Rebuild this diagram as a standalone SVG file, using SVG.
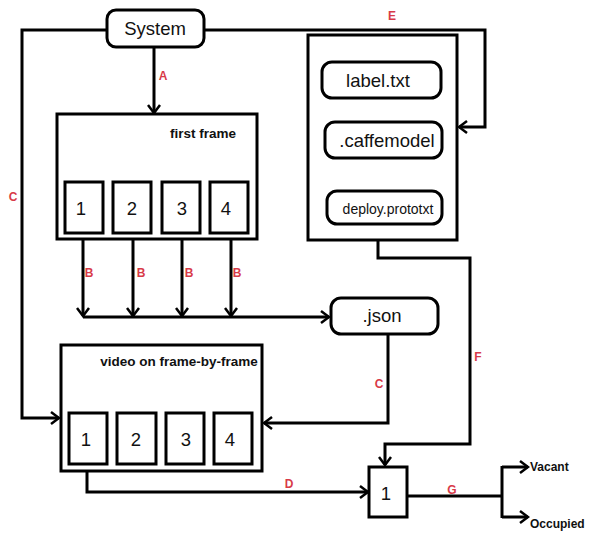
<svg xmlns="http://www.w3.org/2000/svg" width="589" height="534" viewBox="0 0 589 534">
<defs>
<marker id="arr" markerWidth="12" markerHeight="14" refX="10" refY="7" orient="auto" markerUnits="userSpaceOnUse">
<path d="M2,1 L10,7 L2,13" fill="none" stroke="#000" stroke-width="2.5"/>
</marker>
<style>
.box{fill:#fff;stroke:#000;stroke-width:3}
.ln{fill:none;stroke:#000;stroke-width:3}
.t{font-family:"Liberation Sans",Arial,sans-serif;fill:#111;text-anchor:middle}
.big{font-size:18.5px}
.bold{font-weight:bold;font-size:13.5px}
.out{font-family:"Liberation Sans",Arial,sans-serif;fill:#111;font-weight:bold;font-size:12px;text-anchor:start}
.lab{font-family:"Liberation Sans",Arial,sans-serif;font-weight:bold;font-size:12px;fill:#d83a48;text-anchor:middle}
</style>
</defs>
<rect width="589" height="534" fill="#fff"/>
<g id="connectors">
<polyline class="ln" points="154,47 154,113" marker-end="url(#arr)"/>
<polyline class="ln" points="107,30 22,30 22,418 59,418" marker-end="url(#arr)"/>
<polyline class="ln" points="204,30 485,30 485,127 459,127" marker-end="url(#arr)"/>
<polyline class="ln" points="83,233 83,316" marker-end="url(#arr)"/>
<polyline class="ln" points="133,233 133,316" marker-end="url(#arr)"/>
<polyline class="ln" points="182,233 182,316" marker-end="url(#arr)"/>
<polyline class="ln" points="231,233 231,316" marker-end="url(#arr)"/>
<polyline class="ln" points="83,317 329,317" marker-end="url(#arr)"/>
<polyline class="ln" points="388,334 388,423 264,423" marker-end="url(#arr)"/>
<polyline class="ln" points="87,464 87,492 368,492" marker-end="url(#arr)"/>
<polyline class="ln" points="378,240 378,258 470,258 470,444 385,444 385,465" marker-end="url(#arr)"/>
<polyline class="ln" points="407,496 502,496"/>
<polyline class="ln" points="502,467 528,467" marker-end="url(#arr)"/>
<polyline class="ln" points="502,466 502,518"/>
<polyline class="ln" points="502,517 528,517" marker-end="url(#arr)"/>
<text class="lab" x="163" y="80">A</text>
<text class="lab" x="13" y="201">C</text>
<text class="lab" x="392" y="20">E</text>
<text class="lab" x="89" y="277">B</text>
<text class="lab" x="141" y="277">B</text>
<text class="lab" x="189" y="277">B</text>
<text class="lab" x="237" y="277">B</text>
<text class="lab" x="379" y="388">C</text>
<text class="lab" x="289" y="488">D</text>
<text class="lab" x="478" y="361">F</text>
<text class="lab" x="452" y="494">G</text>
</g>
<g id="system">
<rect class="box" x="107" y="10" width="97" height="37" rx="9"/>
<text class="t big" x="155" y="35">System</text>
</g>
<g id="first-frame">
<rect class="box" x="57" y="114" width="200" height="125"/>
<text class="t bold" x="203" y="138">first frame</text>
<rect class="box" x="65" y="182" width="38" height="51"/>
<rect class="box" x="113" y="182" width="38" height="51"/>
<rect class="box" x="162" y="182" width="38" height="51"/>
<rect class="box" x="210" y="182" width="38" height="51"/>
<text class="t big" x="81" y="215">1</text>
<text class="t big" x="132" y="215">2</text>
<text class="t big" x="182" y="215">3</text>
<text class="t big" x="226" y="215">4</text>
</g>
<g id="model">
<rect class="box" x="308" y="35" width="149" height="205"/>
<rect class="box" x="322" y="62" width="119" height="36" rx="10"/>
<text class="t big" x="378" y="87">label.txt</text>
<rect class="box" x="325" y="122" width="117" height="36" rx="10"/>
<text class="t big" x="387" y="147">.caffemodel</text>
<rect class="box" x="327" y="191" width="115" height="33" rx="10"/>
<text class="t" font-size="14" x="388" y="214">deploy.prototxt</text>
</g>
<g id="json">
<rect class="box" x="331" y="298" width="107" height="36" rx="10"/>
<text class="t big" x="382" y="322">.json</text>
</g>
<g id="video">
<rect class="box" x="61" y="345" width="201" height="126"/>
<text class="t bold" x="179" y="366">video on frame-by-frame</text>
<rect class="box" x="69" y="413" width="38" height="51"/>
<rect class="box" x="117" y="413" width="39" height="51"/>
<rect class="box" x="166" y="413" width="38" height="51"/>
<rect class="box" x="214" y="413" width="38" height="51"/>
<text class="t big" x="86" y="446">1</text>
<text class="t big" x="136" y="446">2</text>
<text class="t big" x="186" y="446">3</text>
<text class="t big" x="230" y="446">4</text>
</g>
<g id="result">
<rect class="box" x="369" y="467" width="38" height="50"/>
<text class="t big" x="386" y="500">1</text>
</g>
<g id="vacant">
<text class="out" x="530" y="471">Vacant</text>
</g>
<g id="occupied">
<text class="out" x="530" y="528">Occupied</text>
</g>
</svg>
